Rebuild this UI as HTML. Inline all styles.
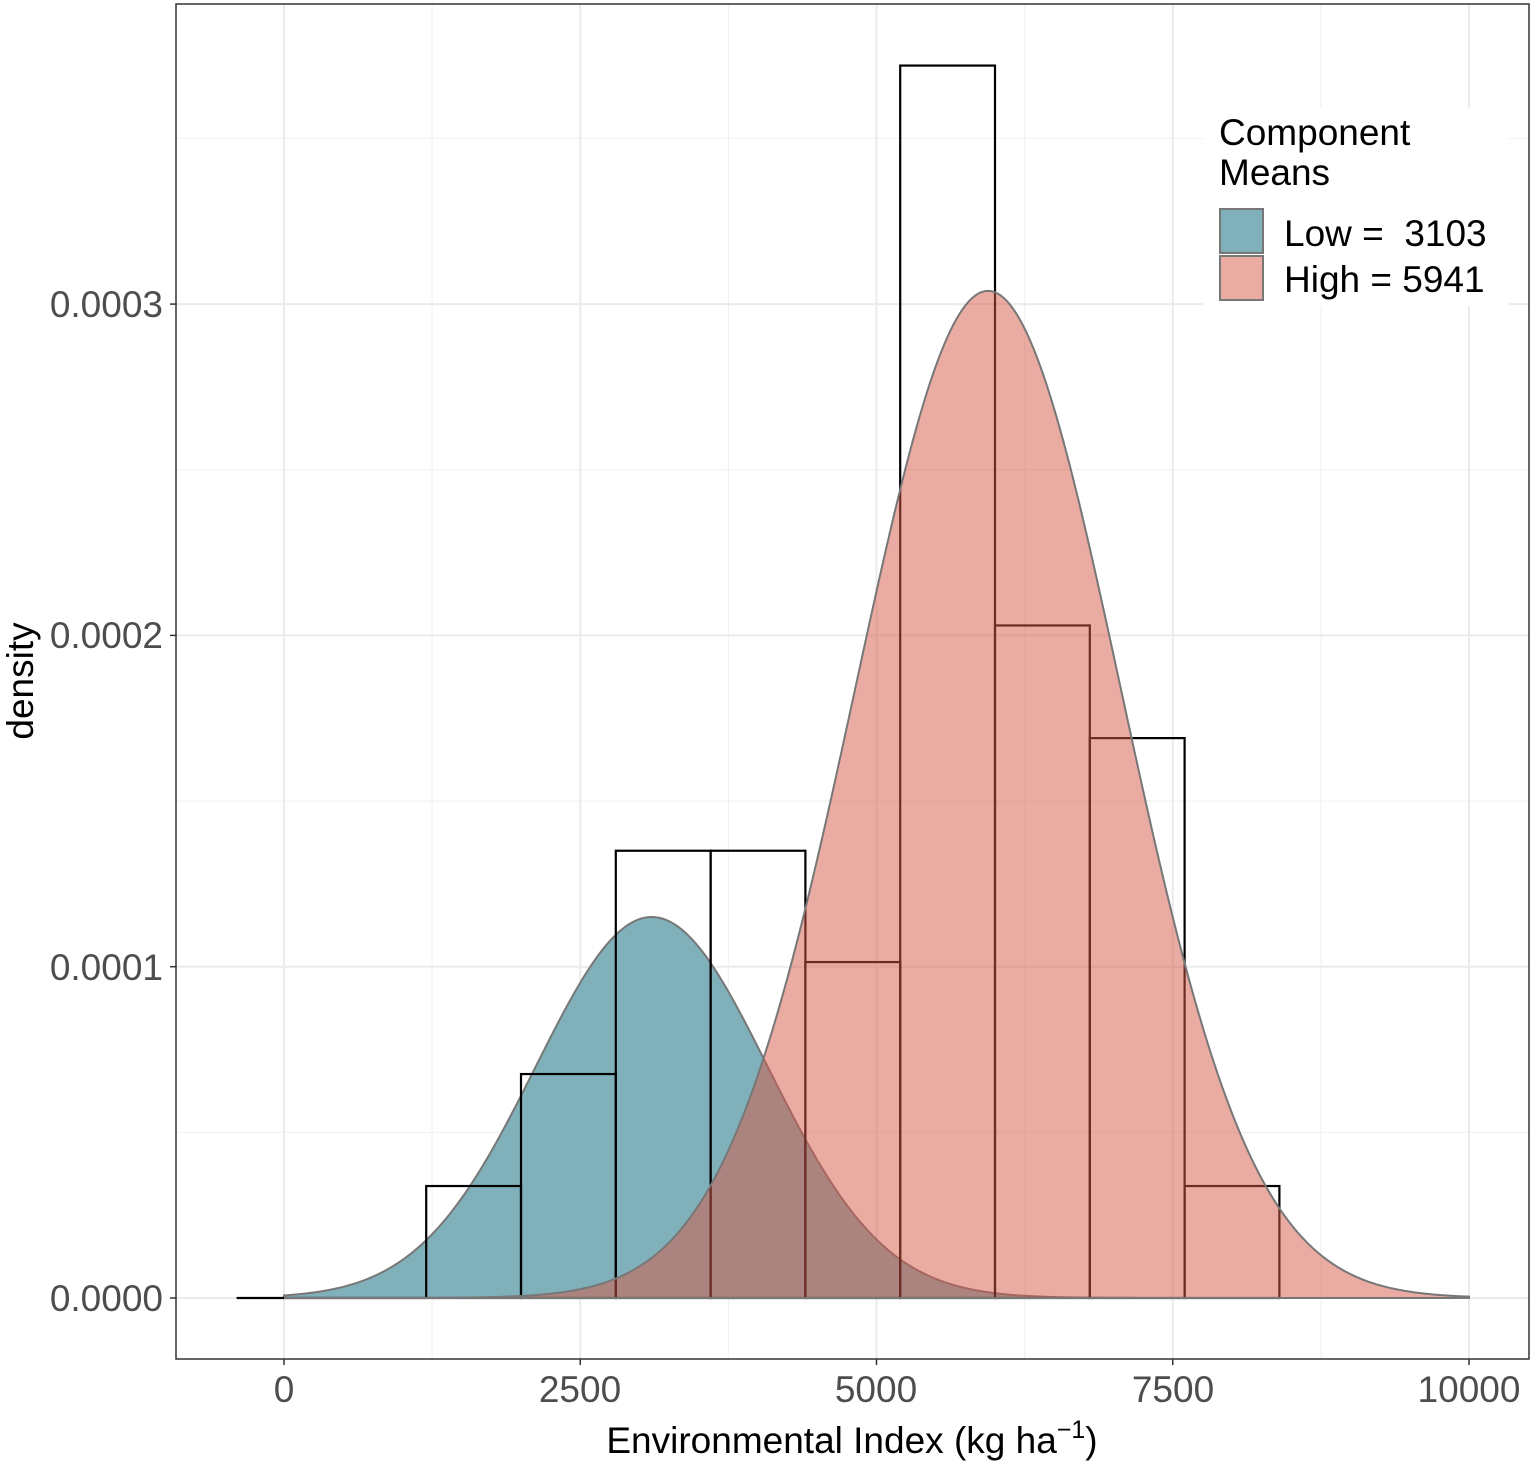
<!DOCTYPE html>
<html><head><meta charset="utf-8"><style>
html,body{margin:0;padding:0;background:#fff;}
svg{display:block;font-family:"Liberation Sans",Arial,sans-serif;}
</style></head><body>
<svg id="s" width="1535" height="1466" viewBox="0 0 1535 1466" xmlns="http://www.w3.org/2000/svg">
<rect x="0" y="0" width="1535" height="1466" fill="#fff"/>
<g id="grid"></g>
<path id="low" fill="rgb(128,177,186)" stroke="#777" stroke-width="2"/>
<g id="hist" fill="none" stroke="#000" stroke-width="2.2"></g>
<path id="high" fill="rgb(213,87,69)" fill-opacity="0.5" stroke="#777" stroke-width="2"/>
<rect x="176" y="4" width="1353" height="1355" fill="none" stroke="#333" stroke-width="1.5"/>
<g id="ticks" stroke="#333" stroke-width="1.5"></g>
<g fill="#4d4d4d" font-size="37" text-anchor="end">
<text x="163" y="1311">0.0000</text>
<text x="163" y="980">0.0001</text>
<text x="163" y="648">0.0002</text>
<text x="163" y="317">0.0003</text>
</g>
<g fill="#4d4d4d" font-size="37" text-anchor="middle">
<text x="284" y="1402">0</text>
<text x="580" y="1402">2500</text>
<text x="876" y="1402">5000</text>
<text x="1173" y="1402">7500</text>
<text x="1469" y="1402">10000</text>
</g>
<text x="852" y="1453" font-size="37" text-anchor="middle" fill="#000">Environmental Index (kg ha<tspan dy="-15" font-size="25">−1</tspan><tspan dy="15">)</tspan></text>
<text transform="translate(33,681) rotate(-90)" font-size="37" text-anchor="middle" fill="#000">density</text>
<rect x="1203" y="108" width="306" height="198" fill="#fff"/>
<text x="1219" y="145" font-size="37" fill="#000">Component</text>
<text x="1219" y="185" font-size="37" fill="#000">Means</text>
<rect x="1220" y="209" width="43" height="44" fill="rgb(128,177,186)" stroke="#777" stroke-width="2"/>
<rect x="1220" y="256" width="43" height="44" fill="rgb(234,171,162)" stroke="#777" stroke-width="2"/>
<text x="1284" y="246" font-size="37" fill="#000" xml:space="preserve">Low =  3103</text>
<text x="1284" y="292" font-size="37" fill="#000">High = 5941</text>
</svg>
<script>
var X=function(v){return 284+v*0.1185;};
var Y=function(d){return 1298-d*3313000;};
var ns="http://www.w3.org/2000/svg";
function el(p,t,a){var e=document.createElementNS(ns,t);for(var k in a)e.setAttribute(k,a[k]);p.appendChild(e);return e;}
var g=document.getElementById('grid');
[1250,3750,6250,8750].forEach(function(v){el(g,'line',{x1:X(v),x2:X(v),y1:4,y2:1359,stroke:'#f2f2f2','stroke-width':1.2});});
[0.00005,0.00015,0.00025,0.00035].forEach(function(v){el(g,'line',{y1:Y(v),y2:Y(v),x1:176,x2:1529,stroke:'#f2f2f2','stroke-width':1.2});});
[0,2500,5000,7500,10000].forEach(function(v){el(g,'line',{x1:X(v),x2:X(v),y1:4,y2:1359,stroke:'#ebebeb','stroke-width':2});});
[0,0.0001,0.0002,0.0003].forEach(function(v){el(g,'line',{y1:Y(v),y2:Y(v),x1:176,x2:1529,stroke:'#ebebeb','stroke-width':2});});
var t=document.getElementById('ticks');
[0,2500,5000,7500,10000].forEach(function(v){el(t,'line',{x1:X(v),x2:X(v),y1:1359,y2:1365});});
[0,0.0001,0.0002,0.0003].forEach(function(v){el(t,'line',{y1:Y(v),y2:Y(v),x1:170,x2:176});});
function curve(id,mu,sd,peak){var d='M'+X(0)+','+Y(0);for(var v=0;v<=10000;v+=25){var y=peak*Math.exp(-0.5*Math.pow((v-mu)/sd,2));d+=' L'+X(v).toFixed(2)+','+Y(y).toFixed(2);}d+=' L'+X(10000)+','+Y(0)+' Z';document.getElementById(id).setAttribute('d',d);}
curve('low',3103,980,0.000115);
curve('high',5941,1118,0.000304);
var h=document.getElementById('hist');
el(h,'line',{x1:X(-400),x2:X(1200),y1:Y(0),y2:Y(0)});
var bins=[[1200,0.0000338],[2000,0.0000676],[2800,0.000135],[3600,0.000135],[4400,0.0001014],[5200,0.000372],[6000,0.000203],[6800,0.000169],[7600,0.0000338]];
bins.forEach(function(b){el(h,'rect',{x:X(b[0]),y:Y(b[1]),width:800*0.1185,height:Y(0)-Y(b[1])});});
</script>
</body></html>
